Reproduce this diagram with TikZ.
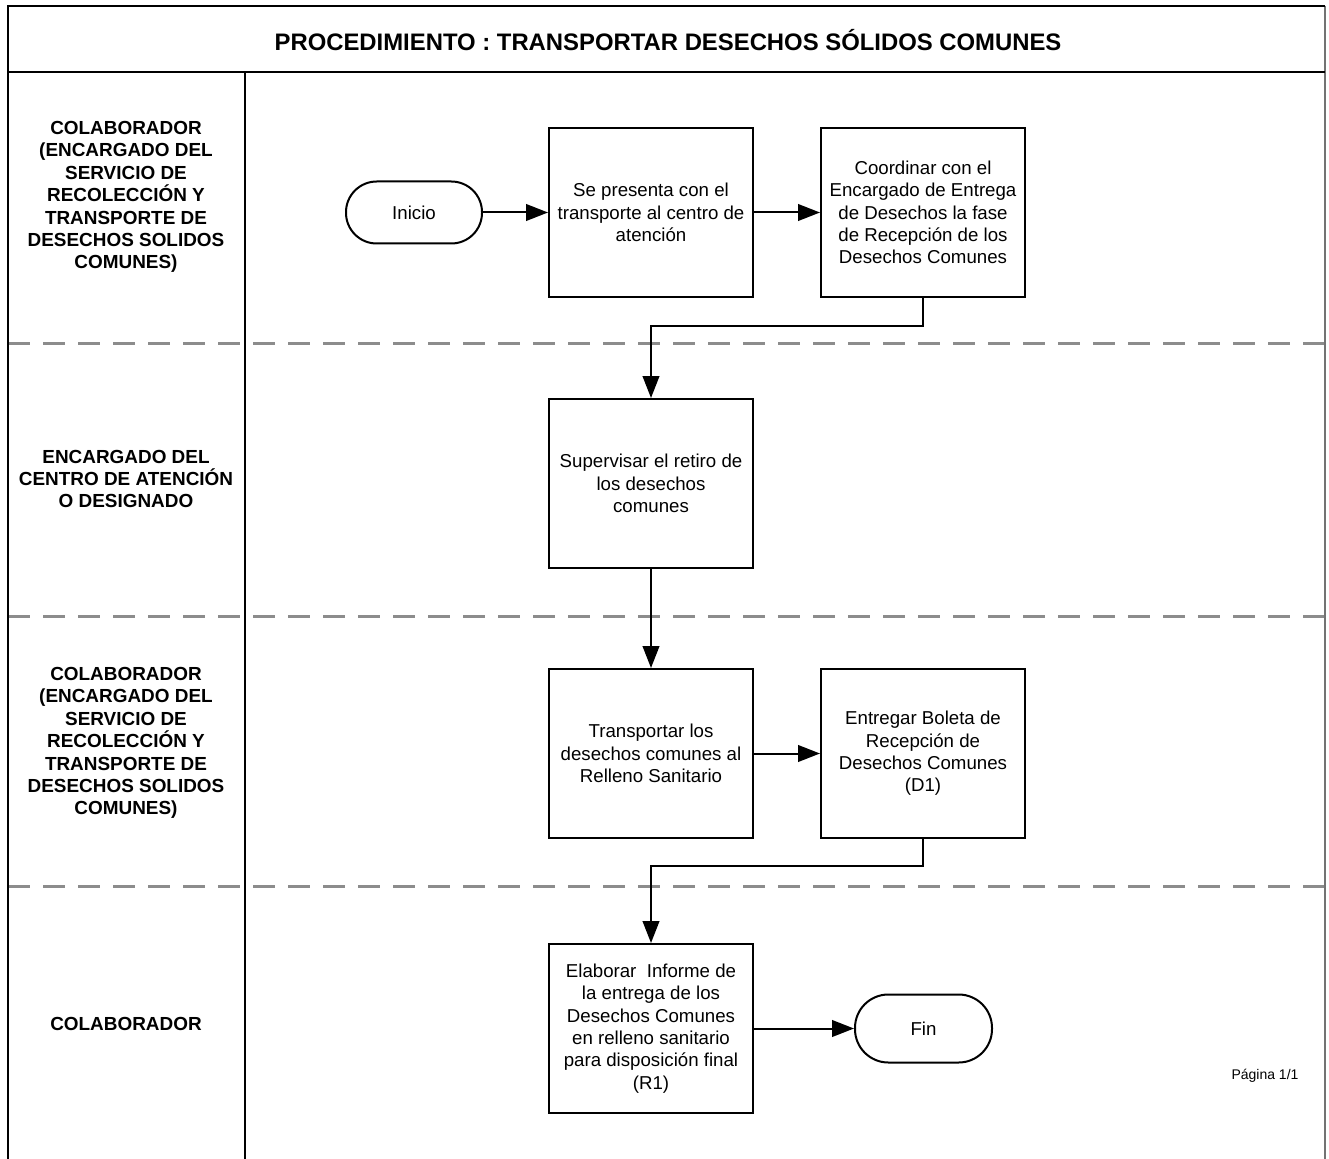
\documentclass[tikz,border=0pt]{standalone}
\usepackage{fontspec}
\setmainfont{Liberation Sans}
\usetikzlibrary{arrows.meta}
\begin{document}
\begin{tikzpicture}[x=0.75pt,y=-0.75pt,
  proc/.style={draw, line width=1.5pt, minimum width=153pt, minimum height=126.75pt, align=center, inner sep=0pt, font=\fontsize{14}{16.8}\selectfont},
  term/.style={draw, line width=1.5pt, align=center, inner sep=0pt, font=\fontsize{14}{16.8}\selectfont},
  lane/.style={align=center, font=\bfseries\fontsize{14.2}{16.8}\selectfont},
  flow/.style={line width=1.5pt, -{Triangle[length=16.5pt,width=12.5pt]}},
  sep/.style={draw=black!45, line width=2.25pt, dash pattern=on 16.5pt off 9.75pt}]
\useasboundingbox (0,0) rectangle (1329,1159);
\fill[white] (0,0) rectangle (1329,1159);
% lane separators
\foreach \yy in {343,616,886} \draw[sep] (8,\yy) -- (1325,\yy);
% frame
\draw[line width=1pt, black!55] (1325,6) -- (1325,1159);
\draw[line width=1.5pt] (8,1159) -- (8,6) -- (1325,6);
\draw[line width=1.5pt] (8,72) -- (1325,72);
\draw[line width=2pt] (245,72) -- (245,1159);
% title
\node[font=\bfseries\fontsize{17.9}{20}\selectfont] (title) at (668,40) {PROCEDIMIENTO : TRANSPORTAR DESECHOS SÓLIDOS COMUNES};
% lane labels
\node[lane] (l1) at (126,197) {COLABORADOR\\(ENCARGADO DEL\\SERVICIO DE\\RECOLECCIÓN Y\\TRANSPORTE DE\\DESECHOS SOLIDOS\\COMUNES)};
\node[lane] (l2) at (126,479) {ENCARGADO DEL\\CENTRO DE ATENCIÓN\\O DESIGNADO};
\node[lane] (l3) at (126,743) {COLABORADOR\\(ENCARGADO DEL\\SERVICIO DE\\RECOLECCIÓN Y\\TRANSPORTE DE\\DESECHOS SOLIDOS\\COMUNES)};
\node[lane] (l4) at (126,1024) {COLABORADOR};
% nodes
\node[term, minimum width=102pt, minimum height=46.5pt, rounded corners=23pt] (inicio) at (414,212.5) {Inicio};
\node[proc] (b1) at (651,212.5) {Se presenta con el\\transporte al centro de\\atención};
\node[proc] (b2) at (923,212.5) {Coordinar con el\\Encargado de Entrega\\de Desechos la fase\\de Recepción de los\\Desechos Comunes};
\node[proc] (b3) at (651,483.5) {Supervisar el retiro de\\los desechos\\comunes};
\node[proc] (b4) at (651,753.5) {Transportar los\\desechos comunes al\\Relleno Sanitario};
\node[proc] (b5) at (923,753.5) {Entregar Boleta de\\Recepción de\\Desechos Comunes\\(D1)};
\node[proc] (b6) at (651,1028.5) {Elaborar\ \ Informe de\\la entrega de los\\Desechos Comunes\\en relleno sanitario\\para disposición final\\(R1)};
\node[term, minimum width=102.75pt, minimum height=51pt, rounded corners=25pt] (fin) at (923.5,1028.5) {Fin};
\node[font=\fontsize{10.5}{12}\selectfont] (pag) at (1265,1076) {Página 1/1};
% connectors
\draw[flow] (inicio.east) -- (b1.west);
\draw[flow] (b1.east) -- (b2.west);
\draw[flow] (b2.south) -- ++(0,28) -| (b3.north);
\draw[flow] (b3.south) -- (b4.north);
\draw[flow] (b4.east) -- (b5.west);
\draw[flow] (b5.south) -- ++(0,27) -| (b6.north);
\draw[flow] (b6.east) -- (fin.west);
\end{tikzpicture}
\end{document}
